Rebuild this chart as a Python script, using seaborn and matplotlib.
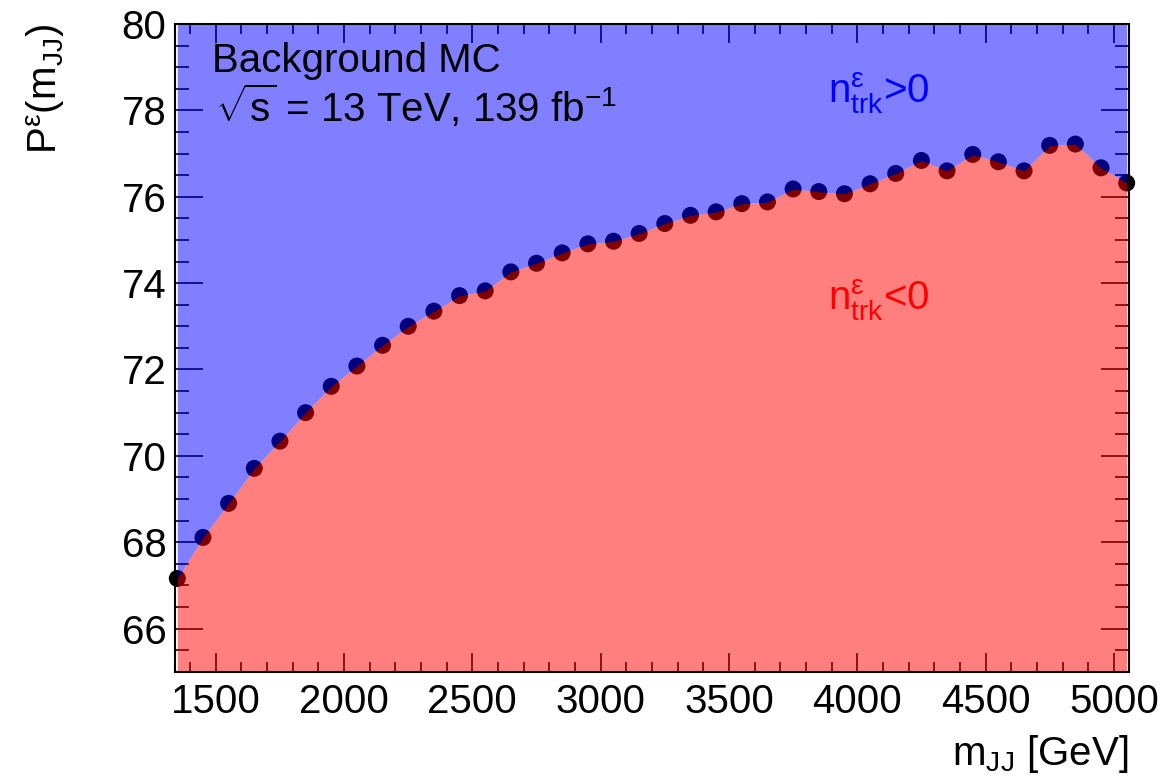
import numpy as np
import pandas as pd
import matplotlib
matplotlib.use('Agg')
import matplotlib.pyplot as plt
import seaborn as sns
from matplotlib.ticker import MultipleLocator

# bin centres of m_JJ [GeV] and the fraction P^eps(m_JJ)
m_jj = [1350, 1450, 1550, 1650, 1750, 1850, 1950, 2050, 2150, 2250,
        2350, 2450, 2550, 2650, 2750, 2850, 2950, 3050, 3150, 3250,
        3350, 3450, 3550, 3650, 3750, 3850, 3950, 4050, 4150, 4250,
        4350, 4450, 4550, 4650, 4750, 4850, 4950, 5050]
p_eps = [67.16, 68.11, 68.90, 69.71, 70.34, 71.00, 71.61, 72.08, 72.56, 73.00,
         73.35, 73.71, 73.82, 74.26, 74.46, 74.70, 74.91, 74.97, 75.15, 75.38,
         75.57, 75.65, 75.84, 75.88, 76.18, 76.12, 76.07, 76.30, 76.54, 76.84,
         76.60, 76.98, 76.81, 76.60, 77.19, 77.22, 76.67, 76.32]

x_lims = [1340, 5058]
y_lims = [65, 80]
font_size = 29

sns.set_theme(style='ticks', rc={
    'xtick.direction': 'in', 'ytick.direction': 'in',
    'xtick.top': True, 'ytick.right': True,
    'text.color': 'black', 'axes.labelcolor': 'black',
    'xtick.color': 'black', 'ytick.color': 'black',
    'axes.edgecolor': 'black',
})
plt.rcParams['font.family'] = ['Liberation Sans', 'DejaVu Sans']
plt.rcParams['mathtext.fontset'] = 'custom'
plt.rcParams['mathtext.rm'] = 'Liberation Sans'
plt.rcParams['mathtext.it'] = 'Liberation Sans'
plt.rcParams['mathtext.bf'] = 'Liberation Sans:bold'

df = pd.DataFrame({'m_jj': m_jj, 'p_eps': p_eps})

fig = plt.figure(figsize=(11.61, 7.83), dpi=100)
ax = fig.add_axes([0.1505, 0.1421, 0.9722 - 0.1505, 0.9693 - 0.1421])

# black points sit under the semi-transparent fills (ROOT look)
sns.scatterplot(data=df, x='m_jj', y='p_eps', ax=ax, color='black', s=150,
                edgecolor='none', linewidth=0, zorder=2.8, clip_on=False,
                legend=False)
ax.fill_between(df['m_jj'], y_lims[0], df['p_eps'], color='red', alpha=0.5,
                linewidth=0, zorder=3)
ax.fill_between(df['m_jj'], df['p_eps'], y_lims[1], color='blue', alpha=0.5,
                linewidth=0, zorder=3)

ax.set_xlim(x_lims)
ax.set_ylim(y_lims)
ax.xaxis.set_major_locator(MultipleLocator(500))
ax.xaxis.set_minor_locator(MultipleLocator(100))
ax.yaxis.set_major_locator(MultipleLocator(2))
ax.yaxis.set_minor_locator(MultipleLocator(0.5))
ax.tick_params(axis='x', which='major', length=14, width=1.2, labelsize=font_size, pad=8)
ax.tick_params(axis='x', which='minor', length=7, width=1.2)
ax.tick_params(axis='y', which='major', length=20, width=1.2, labelsize=font_size, pad=6)
ax.tick_params(axis='y', which='minor', length=10, width=1.2)
ax.tick_params(which='both', top=True, right=True, direction='in', color='black',
               labelcolor='black')
for spine in ax.spines.values():
    spine.set_linewidth(1.5)
    spine.set_zorder(4)

ax.set_xlabel(r'$\mathregular{m_{JJ}}$ [GeV]', fontsize=font_size, loc='right')
ax.xaxis.set_label_coords(1.0, -0.095)
ax.set_ylabel(r'$\mathregular{P^{ε}(m_{JJ})}$', fontsize=font_size, loc='top')
ax.yaxis.set_label_coords(-0.113, 1.0)

ax.text(0.039, 0.926, 'Background MC', transform=ax.transAxes, fontsize=font_size,
        va='baseline', zorder=5)
ax.text(0.042, 0.849, r'$\mathregular{\sqrt{s}}$ = 13 TeV, 139 fb$^{\mathregular{-1}}$',
        transform=ax.transAxes, fontsize=font_size, va='baseline', zorder=5)
ax.text(0.685, 0.878, r'$\mathregular{n^{ε}_{trk}}$>0', transform=ax.transAxes,
        fontsize=font_size, color='blue', va='baseline', zorder=5)
ax.text(0.685, 0.558, r'$\mathregular{n^{ε}_{trk}}$<0', transform=ax.transAxes,
        fontsize=font_size, color='red', va='baseline', zorder=5)

fig.savefig('out.png', dpi=100)
